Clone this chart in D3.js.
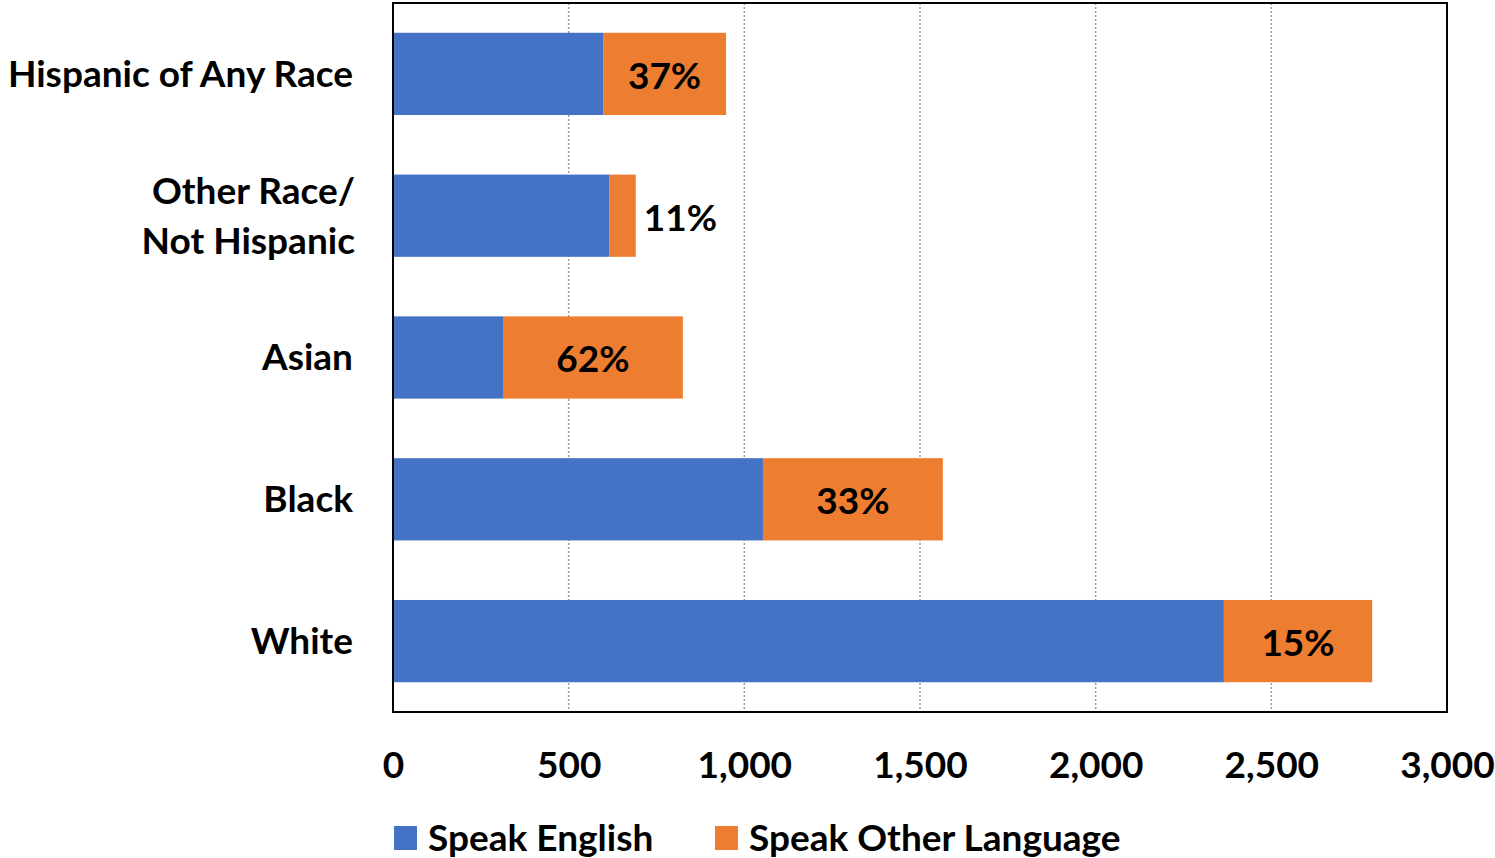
<!DOCTYPE html>
<html><head><meta charset="utf-8">
<script src="https://cdn.jsdelivr.net/npm/d3@7"></script>
<style>body{margin:0;background:#fff}svg{display:block}text{font-family:Lato,"Open Sans",sans-serif;font-weight:bold;fill:#000}</style>
</head><body><svg id="c" width="1495" height="858"></svg>
<script>
const categories = ["Hispanic of Any Race", "Other Race/\nNot Hispanic", "Asian", "Black", "White"];
const speakEnglish = [598, 615, 313, 1053, 2365];
const speakOther = [350, 76, 512, 512, 422];
const pctLabels = ["37%", "11%", "62%", "33%", "15%"];
const xTicks = [0, 500, 1000, 1500, 2000, 2500, 3000];
const seriesNames = ["Speak English", "Speak Other Language"];
const colors = ["#4472C4", "#ED7D31"];

const svg = d3.select("#c");
const m = {l: 393, r: 1447, t: 3, b: 712};
const x = d3.scaleLinear().domain([0, 3000]).range([m.l, m.r]);
const y = d3.scaleBand().domain(categories).range([m.t, m.b]).paddingInner(0.42).paddingOuter(0.21);
const fs = 37;

// gridlines
svg.append("g").selectAll("line").data(xTicks.slice(1, -1)).join("line")
  .attr("x1", d => x(d)).attr("x2", d => x(d)).attr("y1", m.t).attr("y2", m.b)
  .attr("stroke", "#9a9a9a").attr("stroke-width", 1.5).attr("stroke-dasharray", "2,2");

const rows = categories.map((c, i) => ({c, e: speakEnglish[i], o: speakOther[i], p: pctLabels[i]}));
const g = svg.append("g");
g.selectAll(".e").data(rows).join("rect")
  .attr("x", x(0)).attr("y", d => y(d.c)).attr("width", d => x(d.e) - x(0)).attr("height", y.bandwidth())
  .attr("fill", colors[0]);
g.selectAll(".o").data(rows).join("rect")
  .attr("x", d => x(d.e)).attr("y", d => y(d.c)).attr("width", d => x(d.e + d.o) - x(d.e)).attr("height", y.bandwidth())
  .attr("fill", colors[1]);

// data labels
g.selectAll(".lbl").data(rows).join("text")
  .attr("x", d => (x(d.e + d.o) - x(d.e)) < 90 ? x(d.e + d.o) + 8 : (x(d.e) + x(d.e + d.o)) / 2)
  .attr("text-anchor", d => (x(d.e + d.o) - x(d.e)) < 90 ? "start" : "middle")
  .attr("y", d => y(d.c) + y.bandwidth() / 2 + 2).attr("dy", "0.35em")
  .attr("font-size", fs).text(d => d.p);

// frame
svg.append("rect").attr("x", m.l).attr("y", m.t).attr("width", m.r - m.l).attr("height", m.b - m.t)
  .attr("fill", "none").attr("stroke", "#000").attr("stroke-width", 2);

// x axis
const xa = svg.append("g").attr("transform", `translate(0,${m.b})`)
  .call(d3.axisBottom(x).tickValues(xTicks).tickSize(0).tickFormat(d3.format(",")));
xa.select(".domain").remove();
xa.selectAll("text").attr("font-size", fs).style("font-family", null).attr("fill", "#000")
  .attr("y", 53).attr("dy", "0.35em");

// y labels
const ya = svg.append("g");
categories.forEach(c => {
  const lines = c.split("\n");
  const cy = y(c) + y.bandwidth() / 2;
  const lh = 50;
  lines.forEach((ln, j) => {
    ya.append("text").attr("x", lines.length > 1 ? 355 : 353).attr("text-anchor", "end")
      .attr("y", cy + (j - (lines.length - 1) / 2) * lh).attr("dy", "0.35em")
      .attr("font-size", fs).text(ln);
  });
});

// legend
const lg = svg.append("g");
const lx = [394, 715];
seriesNames.forEach((s, i) => {
  lg.append("rect").attr("x", lx[i]).attr("y", 826).attr("width", 23).attr("height", 24).attr("fill", colors[i]);
  lg.append("text").attr("x", lx[i] + 34).attr("y", 838).attr("dy", "0.35em").attr("font-size", fs).text(s);
});
</script></body></html>
